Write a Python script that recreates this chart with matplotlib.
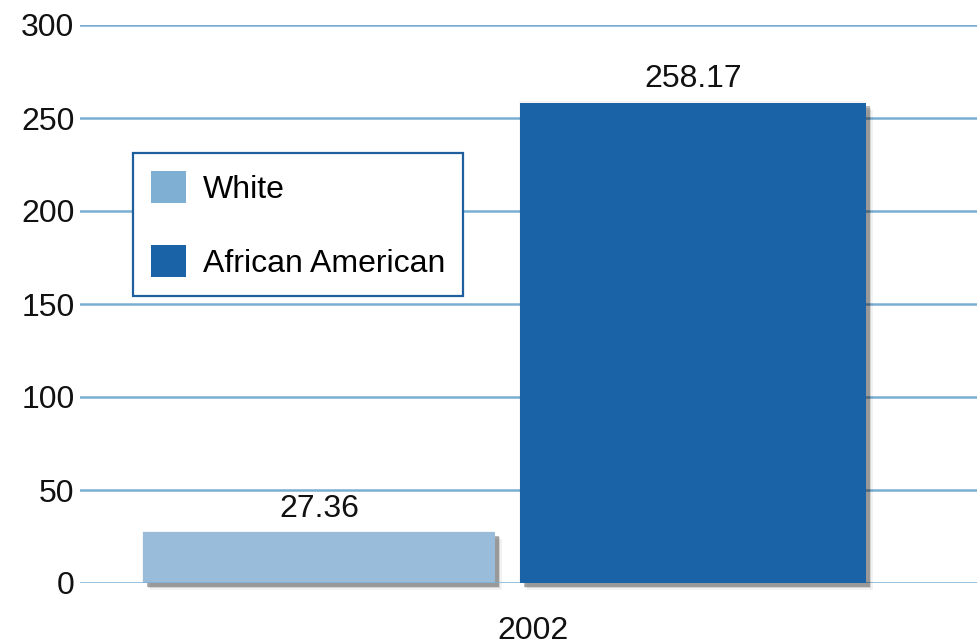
import matplotlib
matplotlib.use("Agg")
import matplotlib.pyplot as plt
import matplotlib.patheffects as pe
from matplotlib.patches import Patch

# Data
years = ["2002"]
groups = ["White", "African American"]
values = [27.36, 258.17]
y_ticks = [0, 50, 100, 150, 200, 250, 300]

# Styling
bar_fill = ["#98BCDA", "#1A63A6"]
legend_fill = ["#7FAFD2", "#1A63A6"]
grid_color = "#7BAED3"
legend_edge = "#1F5F9E"
font = "Liberation Sans"
fs = 23

plt.rcParams["font.family"] = [font, "DejaVu Sans"]

fig = plt.figure(figsize=(9.78, 6.41), dpi=100)
ax = fig.add_axes([80 / 978, 58 / 641, 898 / 978, 558 / 641])

ax.set_xlim(-0.5045, 0.4955)
ax.set_ylim(0, 300)

# bar left edges and widths in axis units around the single category
lefts = [-0.4343, -0.0145]
widths = [0.3919, 0.3853]
zorders = [0.2, 2]


def shadow():
    return [
        pe.SimplePatchShadow(offset=(5.0, -5.0), shadow_rgbFace="#000000", alpha=0.05),
        pe.SimplePatchShadow(offset=(3.8, -3.8), shadow_rgbFace="#000000", alpha=0.12),
        pe.SimplePatchShadow(offset=(2.6, -2.6), shadow_rgbFace="#000000", alpha=0.28),
        pe.SimplePatchShadow(offset=(-1.0, 1.0), shadow_rgbFace="#000000", alpha=0.04),
        pe.Normal(),
    ]


for left, w, v, c, z in zip(lefts, widths, values, bar_fill, zorders):
    b = ax.bar(left, v, width=w, align="edge", color=c, zorder=z, clip_on=False)
    for p in b:
        p.set_path_effects(shadow())
    ax.annotate(f"{v:.2f}", xy=(left + w / 2, v), xytext=(0, 6),
                textcoords="offset points", ha="center", va="bottom",
                fontsize=fs, color="#111111", zorder=5)

ax.set_yticks(y_ticks)
ax.set_yticklabels([str(t) for t in y_ticks])
ax.set_xticks([0])
ax.set_xticklabels(years)
ax.tick_params(axis="y", length=0, pad=4, labelsize=fs, labelcolor="#111111")
ax.tick_params(axis="x", length=0, pad=24, labelsize=fs, labelcolor="#111111")

ax.yaxis.grid(True, color=grid_color, linewidth=1.8, zorder=0.5)
ax.set_axisbelow(True)
for s in ax.spines.values():
    s.set_visible(False)

handles = [Patch(facecolor=c, edgecolor="none") for c in legend_fill]
leg = ax.legend(handles, groups, loc="upper left",
                bbox_to_anchor=(133 / 978, 1 - 153 / 641),
                bbox_transform=fig.transFigure, borderaxespad=0,
                fontsize=fs, frameon=True, fancybox=False,
                handlelength=1.1, handleheight=1.2, handletextpad=0.55,
                labelspacing=1.25, borderpad=0.55)
leg.get_frame().set_edgecolor(legend_edge)
leg.get_frame().set_linewidth(1.6)
leg.get_frame().set_facecolor("white")
leg.get_frame().set_alpha(1)
leg.set_zorder(10)

fig.savefig("out.png", dpi=100)
